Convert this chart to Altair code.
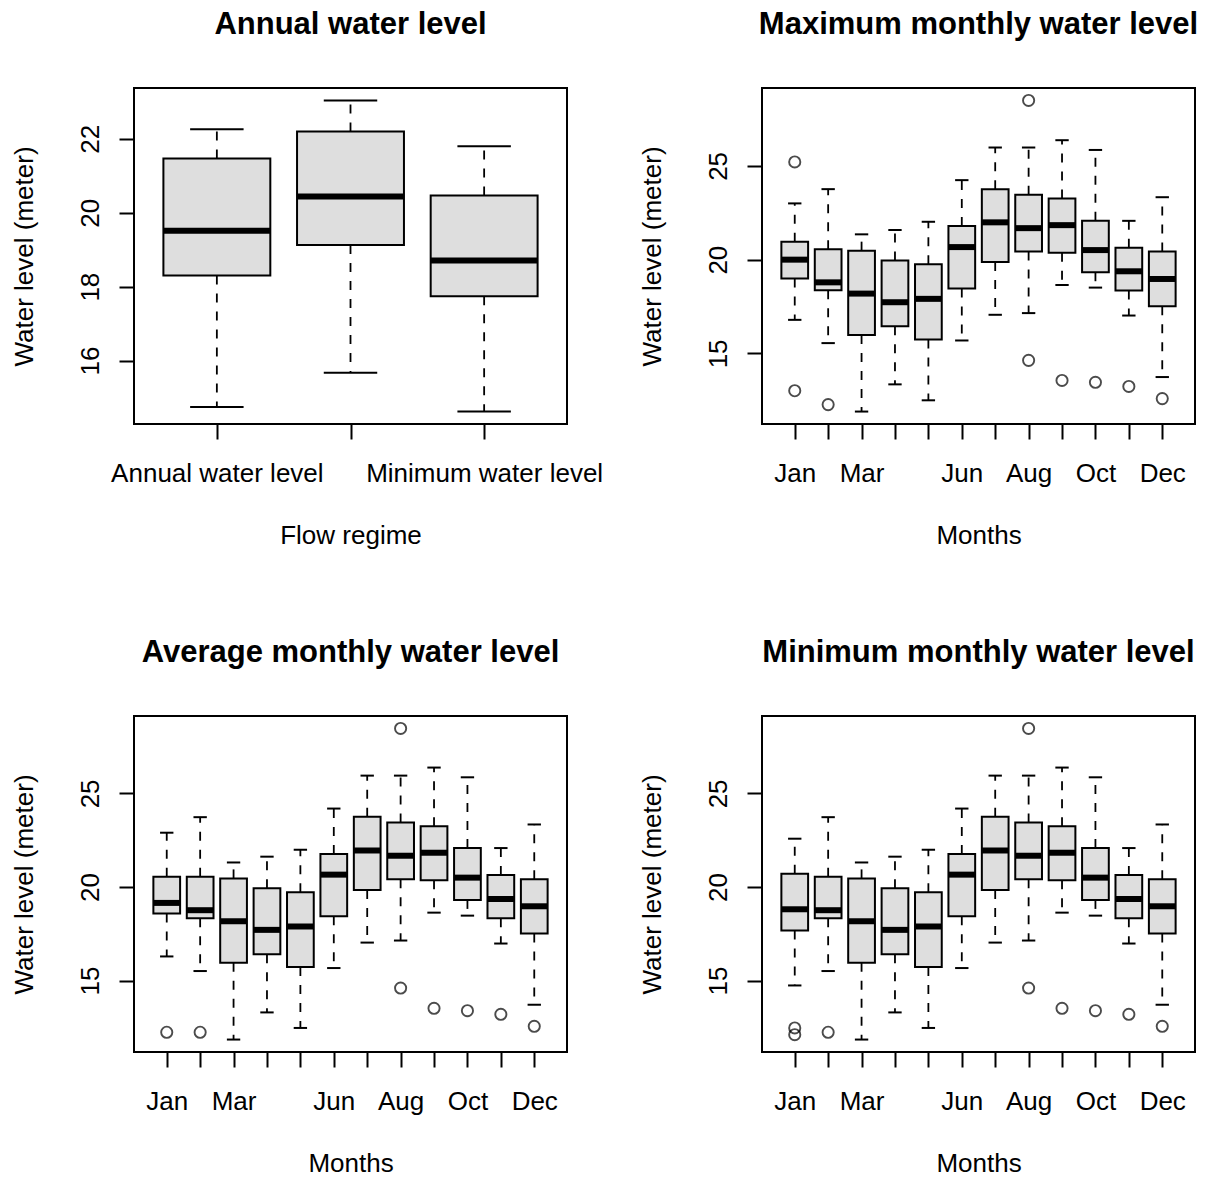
import altair as alt
import pandas as pd

FONT = "Liberation Sans"

# ---------------- data ----------------
REGIMES = ["Annual water level", "Maximum water level", "Minimum water level"]
REGIMES_SHOWN = ["Annual water level", "Minimum water level"]
MONTHS = ["Jan", "Feb", "Mar", "Apr", "May", "Jun", "Jul", "Aug", "Sep", "Oct", "Nov", "Dec"]
MONTHS_SHOWN = ["Jan", "Mar", "Jun", "Aug", "Oct", "Dec"]

ann_low = [14.74, 15.67, 14.62]
ann_q1 = [18.30, 19.13, 17.74]
ann_med = [19.51, 20.44, 18.71]
ann_q3 = [21.47, 22.20, 20.47]
ann_high = [22.26, 23.04, 21.80]
ann_out_cat = []
ann_out_val = []

max_low = [16.79, 15.55, 11.90, 13.35, 12.50, 15.69, 17.06, 17.15, 18.65, 18.51, 17.02, 13.74]
max_q1 = [18.99, 18.37, 15.98, 16.45, 15.74, 18.46, 19.88, 20.43, 20.37, 19.33, 18.35, 17.52]
max_med = [20.00, 18.79, 18.19, 17.73, 17.91, 20.67, 21.99, 21.68, 21.84, 20.51, 19.38, 18.97]
max_q3 = [20.96, 20.55, 20.48, 19.95, 19.75, 21.79, 23.76, 23.46, 23.26, 22.07, 20.64, 20.43]
max_high = [23.00, 23.76, 21.35, 21.58, 22.02, 24.24, 25.98, 25.98, 26.37, 25.85, 22.07, 23.33]
max_out_cat = ["Jan", "Jan", "Feb", "Aug", "Aug", "Sep", "Oct", "Nov", "Dec"]
max_out_val = [25.21, 13.01, 12.27, 28.49, 14.63, 13.56, 13.46, 13.24, 12.59]

avg_low = [16.29, 15.51, 11.85, 13.30, 12.47, 15.67, 17.03, 17.14, 18.63, 18.47, 16.98, 13.71]
avg_q1 = [18.58, 18.33, 15.95, 16.41, 15.72, 18.44, 19.84, 20.41, 20.36, 19.31, 18.33, 17.51]
avg_med = [19.15, 18.76, 18.17, 17.71, 17.89, 20.66, 21.95, 21.67, 21.83, 20.50, 19.36, 18.97]
avg_q3 = [20.55, 20.55, 20.46, 19.93, 19.72, 21.76, 23.75, 23.45, 23.25, 22.08, 20.64, 20.41]
avg_high = [22.90, 23.73, 21.31, 21.62, 21.99, 24.19, 25.95, 25.95, 26.38, 25.86, 22.08, 23.34]
avg_out_cat = ["Jan", "Feb", "Aug", "Aug", "Sep", "Oct", "Nov", "Dec"]
avg_out_val = [12.24, 12.24, 28.47, 14.60, 13.52, 13.39, 13.20, 12.56]

min_low = [14.74, 15.51, 11.85, 13.30, 12.47, 15.67, 17.03, 17.14, 18.63, 18.47, 16.98, 13.71]
min_q1 = [17.67, 18.33, 15.95, 16.41, 15.72, 18.44, 19.84, 20.41, 20.36, 19.31, 18.33, 17.51]
min_med = [18.81, 18.76, 18.17, 17.71, 17.89, 20.66, 21.95, 21.67, 21.83, 20.50, 19.36, 18.97]
min_q3 = [20.71, 20.55, 20.46, 19.93, 19.72, 21.76, 23.75, 23.45, 23.25, 22.08, 20.64, 20.41]
min_high = [22.58, 23.73, 21.31, 21.62, 21.99, 24.19, 25.95, 25.95, 26.38, 25.86, 22.08, 23.34]
min_out_cat = ["Jan", "Jan", "Feb", "Aug", "Aug", "Sep", "Oct", "Nov", "Dec"]
min_out_val = [12.47, 12.11, 12.24, 28.47, 14.60, 13.52, 13.39, 13.20, 12.56]

ann_ticks = [16, 18, 20, 22]
month_ticks = [15, 20, 25]

PANEL_W = 433
PANEL_H = 336


def panel(title, cats, shown, low, q1, med, q3, high, out_cat, out_val, yticks, xtitle):
    n = len(cats)
    pos = list(range(1, n + 1))
    df = pd.DataFrame({
        "cat": cats, "pos": pos,
        "left": [p - 0.4 for p in pos], "right": [p + 0.4 for p in pos],
        "capl": [p - 0.2 for p in pos], "capr": [p + 0.2 for p in pos],
        "low": low, "q1": q1, "med": med, "q3": q3, "high": high,
    })
    odf = pd.DataFrame({"pos": [cats.index(c) + 1 for c in out_cat], "val": out_val})

    allv = low + high + out_val
    lo, hi = min(allv), max(allv)
    ext = 0.04 * (hi - lo)
    ydom = [lo - ext, hi + ext]
    xdom = [0.5 - 0.04 * n, n + 0.5 + 0.04 * n]

    labels = [""] + [c if c in shown else "" for c in cats]
    expr = "[" + ",".join("'" + l + "'" for l in labels) + "][datum.value]"

    xs = alt.Scale(domain=xdom, nice=False, zero=False)
    ys = alt.Scale(domain=ydom, nice=False, zero=False)
    xa = alt.Axis(values=pos, labelExpr=expr, title=xtitle, labelPadding=21, titlePadding=36)
    ya = alt.Axis(values=yticks, title="Water level (meter)", labelAngle=270,
                  labelAlign="center", labelBaseline="alphabetic", labelPadding=21, titlePadding=40)

    def X(f):
        return alt.X(f + ":Q", scale=xs, axis=xa)

    def Y(f):
        return alt.Y(f + ":Q", scale=ys, axis=ya)

    base = alt.Chart(df)
    whisk_hi = base.mark_rule(color="black", strokeWidth=1.8, strokeDash=[9, 9]).encode(
        x=X("pos"), y=Y("q3"), y2="high:Q")
    whisk_lo = base.mark_rule(color="black", strokeWidth=1.8, strokeDash=[9, 9]).encode(
        x=X("pos"), y=Y("q1"), y2="low:Q")
    cap_hi = base.mark_rule(color="black", strokeWidth=2).encode(
        x=X("capl"), x2="capr:Q", y=Y("high"))
    cap_lo = base.mark_rule(color="black", strokeWidth=2).encode(
        x=X("capl"), x2="capr:Q", y=Y("low"))
    box = base.mark_bar(fill="#DEDEDE", stroke="black", strokeWidth=2).encode(
        x=X("left"), x2="right:Q", y=Y("q1"), y2="q3:Q")
    median = base.mark_rule(color="black", strokeWidth=6).encode(
        x=X("left"), x2="right:Q", y=Y("med"))
    layers = [whisk_hi, whisk_lo, cap_hi, cap_lo, box, median]
    if len(odf):
        pts = alt.Chart(odf).mark_point(shape="circle", filled=False, color="black",
                                        size=125, strokeWidth=1.9).encode(
            x=X("pos"), y=Y("val"))
        layers.append(pts)
    return alt.layer(*layers).properties(
        width=PANEL_W, height=PANEL_H,
        title=alt.TitleParams(title, fontSize=31, font=FONT, fontWeight="bold",
                              anchor="middle", baseline="alphabetic", offset=23, color="black"))


p1 = panel("Annual water level", REGIMES, REGIMES_SHOWN, ann_low, ann_q1, ann_med, ann_q3, ann_high,
           ann_out_cat, ann_out_val, ann_ticks, "Flow regime")
p2 = panel("Maximum monthly water level", MONTHS, MONTHS_SHOWN, max_low, max_q1, max_med, max_q3, max_high,
           max_out_cat, max_out_val, month_ticks, "Months")
p3 = panel("Average monthly water level", MONTHS, MONTHS_SHOWN, avg_low, avg_q1, avg_med, avg_q3, avg_high,
           avg_out_cat, avg_out_val, month_ticks, "Months")
p4 = panel("Minimum monthly water level", MONTHS, MONTHS_SHOWN, min_low, min_q1, min_med, min_q3, min_high,
           min_out_cat, min_out_val, month_ticks, "Months")

chart = alt.vconcat(
    alt.hconcat(p1, p2, spacing=34),
    alt.hconcat(p3, p4, spacing=70),
    spacing=87,
).properties(
    padding={"left": 10, "top": 8, "right": 2, "bottom": 0},
    background="white",
).configure_view(
    stroke="black", strokeWidth=2
).configure_axis(
    labelFont=FONT, titleFont=FONT, labelFontSize=26, titleFontSize=26,
    titleFontWeight="normal", labelColor="black", titleColor="black",
    tickColor="black", tickWidth=2, tickSize=15, grid=False, domain=False,
    labelFlush=False, labelOverlap=False, labelBound=False, labelLimit=0,
)

chart.save("out.html", embed_options={"renderer": "svg", "actions": False})
